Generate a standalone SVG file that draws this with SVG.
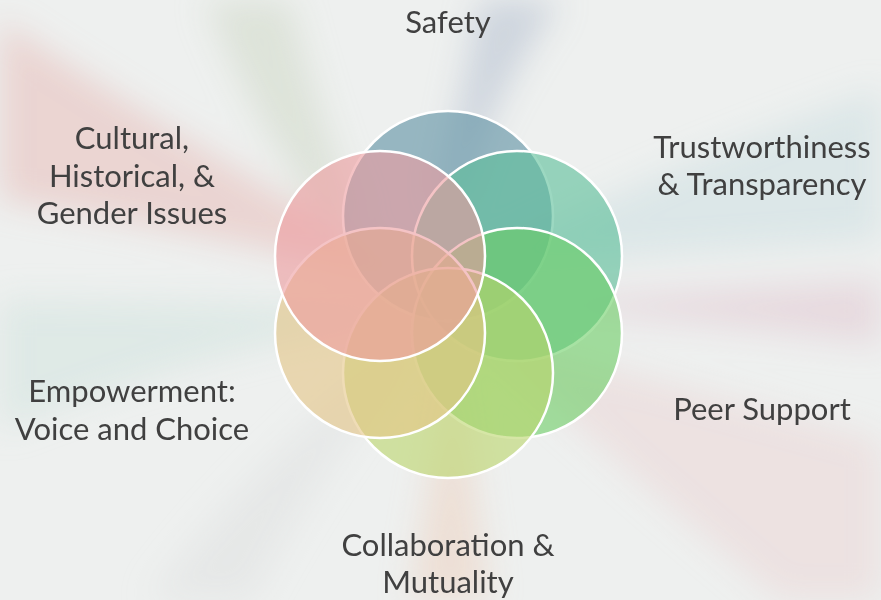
<svg xmlns="http://www.w3.org/2000/svg" width="881" height="600" viewBox="0 0 881 600">
<defs>
<filter id="blur" x="-30%" y="-30%" width="160%" height="160%"><feGaussianBlur stdDeviation="16"/></filter>
<style>
.lbl{font-family:Lato,"Open Sans","Liberation Sans",sans-serif;font-size:31px;fill:#404040;text-anchor:middle}
.c{stroke:#ffffff;stroke-width:2.5;fill-opacity:0.6}
</style>
</defs>
<rect width="881" height="600" fill="#eef0ef"/>
<g id="background" filter="url(#blur)">
<path d="M0,20 Q150,120 440,290 Q200,230 0,200 Z" fill="#e7b9b6" opacity="0.5"/>
<path d="M205,0 L290,0 Q320,120 360,220 L330,225 Q250,120 205,0 Z" fill="#cfd8c8" opacity="0.55"/>
<path d="M480,0 L560,0 Q480,120 460,200 L440,195 Q460,100 480,0 Z" fill="#b4bfcf" opacity="0.55"/>
<path d="M881,90 L881,240 Q700,250 460,270 Q650,170 881,90 Z" fill="#c9dde2" opacity="0.5"/>
<path d="M881,280 L881,345 Q700,320 470,305 Q700,290 881,280 Z" fill="#e2c9d1" opacity="0.55"/>
<path d="M881,440 L881,600 L780,600 Q600,450 470,330 Z" fill="#ecd4d4" opacity="0.5"/>
<path d="M0,300 L0,430 Q200,350 440,310 Q200,300 0,300 Z" fill="#cfe3dd" opacity="0.5"/>
<path d="M410,600 L490,600 Q470,450 455,340 Q430,470 410,600 Z" fill="#edd0bd" opacity="0.5"/>
<path d="M150,600 L250,600 Q330,450 430,330 Q260,450 150,600 Z" fill="#e1e3e2" opacity="0.6"/>
</g>
<g id="node-safety"><circle class="c" cx="448" cy="216" r="105" fill="#5b8fa1"/></g>
<g id="node-trust"><circle class="c" cx="517" cy="256" r="105" fill="#5abe98"/></g>
<g id="node-peer"><circle class="c" cx="517" cy="333" r="105" fill="#6ccf65"/></g>
<g id="node-collab"><circle class="c" cx="448" cy="373" r="105" fill="#bad56b"/></g>
<g id="node-empower"><circle class="c" cx="380" cy="333" r="105" fill="#e4c586"/></g>
<g id="node-cultural"><circle class="c" cx="380" cy="256" r="105" fill="#ec9b9f"/></g>
<g id="labels">
<text class="lbl" x="448" y="33">Safety</text>
<text class="lbl" x="762" y="158">Trustworthiness</text>
<text class="lbl" x="762" y="195">&amp; Transparency</text>
<text class="lbl" x="762" y="420">Peer Support</text>
<text class="lbl" x="448" y="556">Collaboration &amp;</text>
<text class="lbl" x="448" y="593">Mutuality</text>
<text class="lbl" x="132" y="402">Empowerment:</text>
<text class="lbl" x="132" y="440">Voice and Choice</text>
<text class="lbl" x="132" y="149">Cultural,</text>
<text class="lbl" x="132" y="187">Historical, &amp;</text>
<text class="lbl" x="132" y="224">Gender Issues</text>
</g>
</svg>
